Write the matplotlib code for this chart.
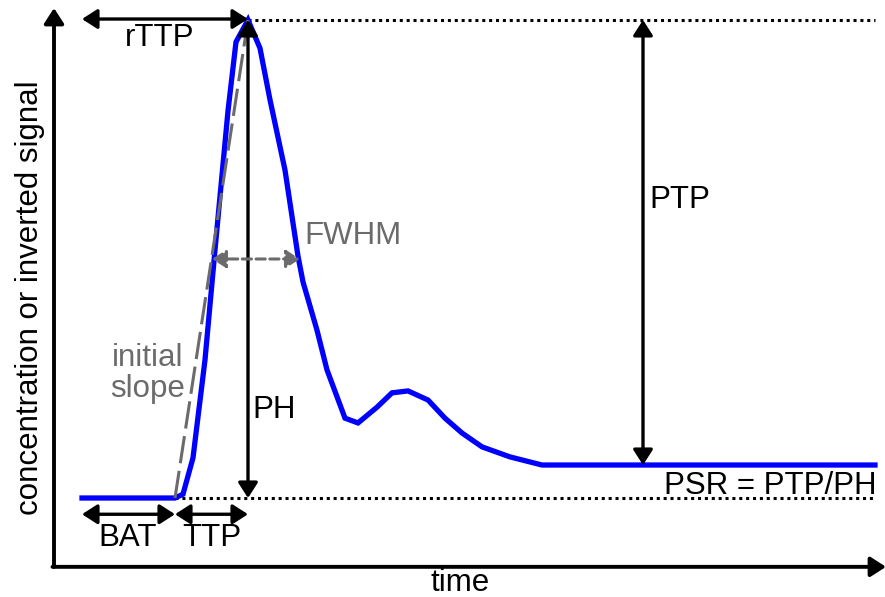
import matplotlib
matplotlib.use("Agg")
import matplotlib.pyplot as plt

plt.rcParams['font.family'] = ['Liberation Sans', 'DejaVu Sans']

# Curve: time (a.u.) and signal (a.u., baseline 0, peak 1)
time = [0.0, 9.3, 10.1, 11.1, 12.3, 13.3, 14.6, 15.4, 16.6, 17.8, 18.8, 20.3,
        21.6, 22.1, 23.5, 24.5, 26.3, 27.6, 29.5, 31.0, 32.6, 34.6, 36.3,
        38.0, 40.0, 42.8, 46.0, 79.3]
signal = [0.0, 0.0, 0.008, 0.084, 0.289, 0.519, 0.81, 0.954, 1.0, 0.941,
          0.833, 0.686, 0.506, 0.452, 0.351, 0.268, 0.167, 0.157, 0.19, 0.220,
          0.224, 0.205, 0.167, 0.136, 0.107, 0.086, 0.069, 0.069]

bat = 9.3       # bolus arrival time
ttp_t = 16.6    # time to peak (absolute)
peak = 1.0
plateau = 0.069
fwhm_left, fwhm_right = 13.0, 21.8
ptp_t = 56.1
t_end = 79.3

fig = plt.figure(figsize=(8.85, 5.97), dpi=100)
ax = fig.add_axes([0, 0, 1, 1])
ax.set_xlim(-8.2, 80.3)
ax.set_ylim(-0.2071, 1.0418)
ax.axis('off')

FS = 22.5
k = 'black'
g = '#6b6b6b'
HEAD = ',head_length=0.42,head_width=0.27'
arrow_kw = dict(arrowstyle='<|-|>' + HEAD, color=k, lw=2.4, mutation_scale=22,
                shrinkA=0, shrinkB=0)

# axes arrows
ax_kw = dict(arrowstyle='-|>' + HEAD, color=k, lw=2.8, mutation_scale=22,
             shrinkA=0, shrinkB=0)
ax.annotate('', xy=(-2.8, 1.025), xytext=(-2.8, -0.144), arrowprops=ax_kw,
            annotation_clip=False)
ax.annotate('', xy=(80.4, -0.144), xytext=(-2.95, -0.144), arrowprops=ax_kw,
            annotation_clip=False)

# dotted reference lines
ax.plot([ttp_t, t_end], [peak, peak], ls=(0, (1, 1.25)), color=k, lw=2.2)
ax.plot([bat, t_end], [0, 0], ls=(0, (1, 1.25)), color=k, lw=2.2)

# initial slope
ax.plot([bat, ttp_t], [0, peak], color=g, lw=2.2, dashes=(9, 2.5), zorder=4)

# curve
ax.plot(time, signal, color='#0000ff', lw=3.8, zorder=3, solid_joinstyle='miter')

# rTTP
ax.annotate('', xy=(ttp_t, 1.002), xytext=(0, 1.002), arrowprops=arrow_kw)
ax.text(7.8, 0.962, 'rTTP', fontsize=FS, ha='center', va='center')

# PH
ax.annotate('', xy=(ttp_t, peak), xytext=(ttp_t, 0), arrowprops=arrow_kw, zorder=5)
ax.text(19.2, 0.184, 'PH', fontsize=FS, ha='center', va='center')

# PTP
ax.annotate('', xy=(ptp_t, peak), xytext=(ptp_t, plateau), arrowprops=arrow_kw)
ax.text(59.8, 0.623, 'PTP', fontsize=FS, ha='center', va='center')

# BAT & TTP
ax.annotate('', xy=(bat, -0.034), xytext=(0, -0.034), arrowprops=arrow_kw)
ax.text(4.6, -0.084, 'BAT', fontsize=FS, ha='center', va='center')
ax.annotate('', xy=(ttp_t, -0.034), xytext=(bat, -0.034), arrowprops=arrow_kw)
ax.text(13.0, -0.084, 'TTP', fontsize=FS, ha='center', va='center')

# FWHM
ax.annotate('', xy=(fwhm_right, 0.50), xytext=(fwhm_left, 0.50),
            arrowprops=dict(arrowstyle='<|-|>' + HEAD, color=g, lw=2.2,
                            mutation_scale=20, shrinkA=0, shrinkB=0,
                            linestyle=(0, (3, 1.5))), zorder=5)
ax.text(22.2, 0.548, 'FWHM', fontsize=FS, ha='left', va='center', color=g)

# initial slope label
ax.text(6.6, 0.26, 'initial\nslope', fontsize=FS, ha='center', va='center',
        color=g, linespacing=1.05)

# PSR
ax.text(79.5, 0.025, 'PSR = PTP/PH', fontsize=FS, ha='right', va='center')

# axis labels
ax.text(-5.15, 0.42, 'concentration or inverted signal', fontsize=FS,
        rotation=90, ha='center', va='center')
ax.text(37.8, -0.178, 'time', fontsize=FS, ha='center', va='center')

fig.savefig('out.png', dpi=100)
